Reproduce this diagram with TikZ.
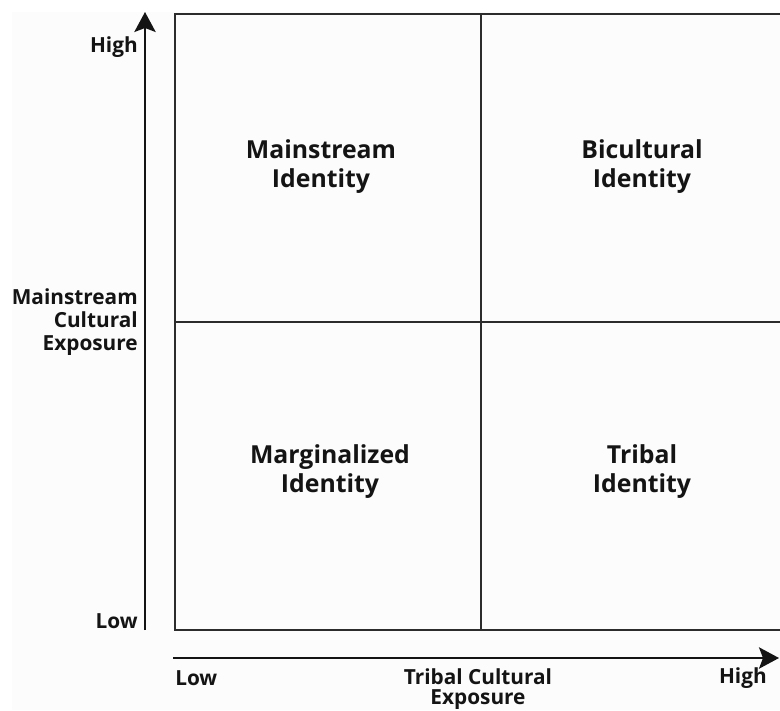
\documentclass[tikz,border=0pt]{standalone}
\usepackage{fontspec}
\setmainfont{Open Sans}
\usetikzlibrary{arrows.meta}
\definecolor{paper}{RGB}{252,252,252}
\definecolor{ink}{RGB}{20,20,20}
\tikzset{
  gridline/.style={draw=ink!90, line width=1.6pt},
  axisline/.style={draw=ink, line width=1.6pt, -{Stealth[length=15pt,width=16pt,inset=3pt]}},
  quadlabel/.style={font=\bfseries\fontsize{18.6}{21.8}\selectfont, align=center, text=ink, inner sep=0pt},
  axislabel/.style={font=\bfseries\fontsize{15.6}{17}\selectfont, text=ink, inner sep=0pt},
}
\begin{document}
\begin{tikzpicture}[x=0.75pt, y=-0.75pt]
  % canvas
  \fill[white] (0,0) rectangle (780,710);
  \fill[paper] (12,12) rectangle (780,710);
  \useasboundingbox (0,0) rectangle (780,710);

  % quadrant frame (open on the right)
  \coordinate (tl) at (175,14);
  \coordinate (bl) at (175,630);
  \coordinate (tr) at (782,14);
  \coordinate (br) at (782,630);
  \coordinate (midtop) at (481,14);
  \coordinate (midbot) at (481,630);
  \coordinate (midleft) at (175,322);
  \coordinate (midright) at (782,322);
  \draw[gridline] (tr) -- (tl) -- (bl) -- (br);
  \draw[gridline] (midtop) -- (midbot);
  \draw[gridline] (midleft) -- (midright);

  % axes
  \coordinate (ystart) at (145,630);
  \coordinate (yend) at (145,12);
  \coordinate (xstart) at (173,658);
  \coordinate (xend) at (779,658);
  \draw[axisline] (ystart) -- (yend);
  \draw[axisline] (xstart) -- (xend);

  % quadrant labels
  \node[quadlabel] (mainstream) at (321,167) {Mainstream\\Identity};
  \node[quadlabel] (bicultural) at (642,167) {Bicultural\\Identity};
  \node[quadlabel] (marginalized) at (330,472) {Marginalized\\Identity};
  \node[quadlabel] (tribal) at (642,472) {Tribal\\Identity};

  % vertical axis labels
  \node[axislabel, anchor=east] (yhigh) at (138,47) {High};
  \node[axislabel, anchor=east] (ylow) at (138,621) {Low};
  \node[axislabel, anchor=east, align=right] (ytitle) at (138,322)
    {Mainstream\\Cultural\\Exposure};

  % horizontal axis labels
  \node[axislabel, anchor=west] (xlow) at (175,678) {Low};
  \node[axislabel, anchor=east] (xhigh) at (767,678) {High};
  \node[axislabel, align=center, font=\bfseries\fontsize{15.6}{15}\selectfont] (xtitle) at (478,689) {Tribal Cultural\\Exposure};
\end{tikzpicture}
\end{document}
